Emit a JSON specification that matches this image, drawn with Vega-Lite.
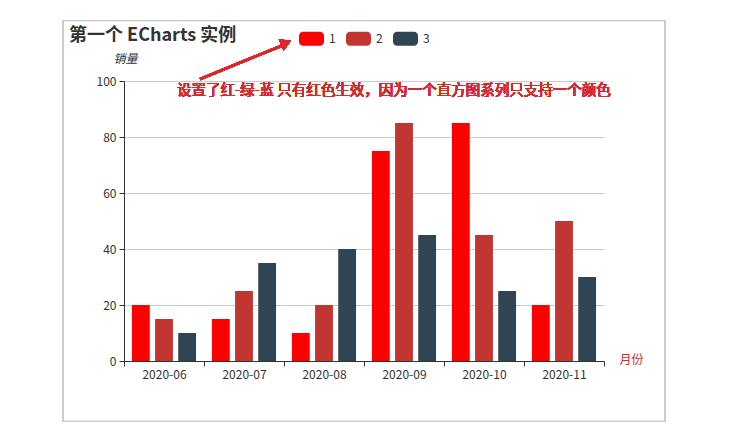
{
  "$schema": "https://vega.github.io/schema/vega-lite/v6.json",
  "width": 480,
  "height": 280,
  "autosize": {"type": "none"},
  "padding": {"left": 124, "top": 81, "right": 128, "bottom": 80},
  "background": "white",
  "config": {
    "view": {"stroke": null},
    "font": "Noto Sans CJK SC",
    "axis": {"labelFont": "Noto Sans CJK SC", "titleFont": "Noto Sans CJK SC"}
  },
  "title": {
    "text": "第一个 ECharts 实例",
    "anchor": "start",
    "frame": "group",
    "dx": -55,
    "dy": 34,
    "fontSize": 18,
    "fontWeight": "bold",
    "color": "#333333",
    "font": "Noto Sans CJK SC",
    "baseline": "middle",
    "offset": 0
  },
  "data": {
    "values": [
      {"month": "2020-06", "series": "1", "value": 20},
      {"month": "2020-06", "series": "2", "value": 15},
      {"month": "2020-06", "series": "3", "value": 10},
      {"month": "2020-07", "series": "1", "value": 15},
      {"month": "2020-07", "series": "2", "value": 25},
      {"month": "2020-07", "series": "3", "value": 35},
      {"month": "2020-08", "series": "1", "value": 10},
      {"month": "2020-08", "series": "2", "value": 20},
      {"month": "2020-08", "series": "3", "value": 40},
      {"month": "2020-09", "series": "1", "value": 75},
      {"month": "2020-09", "series": "2", "value": 85},
      {"month": "2020-09", "series": "3", "value": 45},
      {"month": "2020-10", "series": "1", "value": 85},
      {"month": "2020-10", "series": "2", "value": 45},
      {"month": "2020-10", "series": "3", "value": 25},
      {"month": "2020-11", "series": "1", "value": 20},
      {"month": "2020-11", "series": "2", "value": 50},
      {"month": "2020-11", "series": "3", "value": 30}
    ]
  },
  "resolve": {"scale": {"x": "independent"}},
  "layer": [
    {
      "mark": {"type": "bar"},
      "encoding": {
        "x": {
          "field": "month",
          "type": "nominal",
          "scale": {"paddingInner": 0, "paddingOuter": 0},
          "axis": {
            "title": "月份",
            "titleColor": "#d9272e",
            "titleFontSize": 12,
            "titleFontWeight": "normal",
            "titleX": 507,
            "titleY": -2,
            "titleAlign": "center",
            "titleBaseline": "middle",
            "labelAngle": 0,
            "labelColor": "#333333",
            "labelFontSize": 12,
            "labelPadding": 3,
            "tickBand": "extent",
            "tickColor": "#333333",
            "tickSize": 5,
            "domainColor": "#333333",
            "grid": false
          }
        },
        "xOffset": {
          "field": "series",
          "type": "nominal",
          "scale": {"paddingInner": 0.23, "paddingOuter": 0.343}
        },
        "y": {
          "field": "value",
          "type": "quantitative",
          "scale": {"domain": [0, 100], "nice": false},
          "axis": {
            "title": "销量",
            "titleFontStyle": "italic",
            "titleFontWeight": "normal",
            "titleFontSize": 12,
            "titleColor": "#333333",
            "titleAngle": 0,
            "titleX": 1,
            "titleY": -23,
            "titleAlign": "center",
            "titleBaseline": "middle",
            "values": [0, 20, 40, 60, 80, 100],
            "labelColor": "#333333",
            "labelFontSize": 12,
            "labelPadding": 3,
            "tickColor": "#333333",
            "tickSize": 5,
            "domainColor": "#333333",
            "gridColor": "#cccccc",
            "grid": true
          }
        },
        "color": {
          "field": "series",
          "type": "nominal",
          "scale": {"domain": ["1", "2", "3"], "range": ["#ff0000", "#c23531", "#2f4554"]},
          "legend": {
            "title": null,
            "orient": "none",
            "direction": "horizontal",
            "legendX": 175,
            "legendY": -55,
            "padding": 0,
            "symbolType": "M-0.68,-0.56 H0.68 A0.32,0.32 0 0 1 1,-0.24 V0.24 A0.32,0.32 0 0 1 0.68,0.56 H-0.68 A0.32,0.32 0 0 1 -1,0.24 V-0.24 A0.32,0.32 0 0 1 -0.68,-0.56 Z",
            "symbolSize": 625,
            "symbolStrokeWidth": 0,
            "symbolOpacity": 1,
            "labelColor": "#333333",
            "labelFontSize": 12,
            "labelOffset": 5,
            "columnPadding": 10
          }
        }
      }
    },
    {
      "mark": {"type": "rect", "fill": null, "stroke": "#cccccc", "strokeWidth": 1},
      "encoding": {
        "x": {"datum": -0.7625, "type": "quantitative", "scale": {"domain": [0, 6], "nice": false, "zero": false}, "axis": null},
        "x2": {"datum": 6.7625},
        "y": {"datum": 121.6, "type": "quantitative", "scale": {"domain": [0, 100], "nice": false}},
        "y2": {"datum": -21.6}
      }
    },
    {
      "mark": {"type": "rule", "stroke": "#e0262b", "strokeWidth": 2.5},
      "encoding": {
        "x": {"datum": 0.95, "type": "quantitative", "scale": {"domain": [0, 6], "nice": false, "zero": false}, "axis": null},
        "x2": {"datum": 2.04},
        "y": {"datum": 100.7, "type": "quantitative", "scale": {"domain": [0, 100], "nice": false}},
        "y2": {"datum": 113.4}
      }
    },
    {
      "mark": {"type": "point", "shape": "triangle-right", "filled": true, "color": "#e0262b", "opacity": 1, "size": 150, "angle": 337},
      "encoding": {
        "x": {"datum": 2.026, "type": "quantitative", "scale": {"domain": [0, 6], "nice": false, "zero": false}, "axis": null},
        "y": {"datum": 113.6, "type": "quantitative", "scale": {"domain": [0, 100], "nice": false}}
      }
    },
    {
      "mark": {"type": "text", "align": "left", "baseline": "middle", "fontSize": 14.5, "fontWeight": "normal", "fill": "#d9272e", "font": "Noto Sans CJK SC", "text": "设置了红-绿-蓝 只有红色生效，因为一个直方图系列只支持一个颜色"},
      "encoding": {
        "x": {"datum": 0.6625, "type": "quantitative", "scale": {"domain": [0, 6], "nice": false, "zero": false}, "axis": null},
        "y": {"datum": 96.4, "type": "quantitative", "scale": {"domain": [0, 100], "nice": false}}
      }
    }
  ]
}
